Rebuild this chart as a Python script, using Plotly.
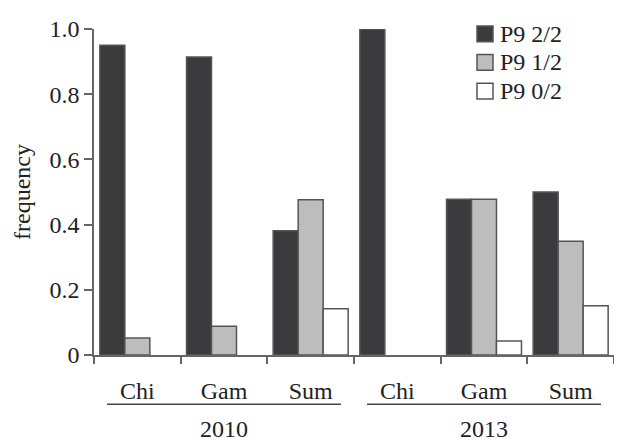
import plotly.graph_objects as go

years = ["2010", "2013"]
sites = ["Chi", "Gam", "Sum", "Chi", "Gam", "Sum"]
series_names = ["P9 2/2", "P9 1/2", "P9 0/2"]
p9_22 = [0.95, 0.914, 0.381, 1.0, 0.478, 0.50]
p9_12 = [0.052, 0.088, 0.476, 0.0, 0.478, 0.349]
p9_02 = [0.0, 0.0, 0.142, 0.0, 0.043, 0.151]
yticks = [0, 0.2, 0.4, 0.6, 0.8, 1.0]
ytick_text = ["0", "0.2", "0.4", "0.6", "0.8", "1.0"]

FONT = "Liberation Serif, Times New Roman, serif"
TXT = "#222222"
LINE = "#555555"
AX = "#666666"
fills = ["#3b3b3d", "#bdbdbd", "#ffffff"]
xpos = list(range(len(sites)))

# page body adds an 8px offset; plot area in page pixels: x 94..614, y 24..355
W, H = 614, 433
ML, MT, MR, MB = 86, 16, 8, 86
PX0, PX1, PY0, PY1 = 94, 614, 24, 355


def px(xp):
    return (xp - PX0) / (PX1 - PX0)


def py(yp):
    return (PY1 - yp) / (PY1 - PY0)


fig = go.Figure()
for name, vals, col in zip(series_names, [p9_22, p9_12, p9_02], fills):
    fig.add_trace(go.Bar(
        x=xpos, y=vals, name=name, showlegend=False,
        marker=dict(color=col,
                    line=dict(color=LINE, width=[1.5 if v > 0 else 0 for v in vals])),
    ))

# invisible trace to drive the boundary-tick axis
fig.add_trace(go.Scatter(x=[-0.5, 5.5], y=[0, 0], xaxis="x2", mode="markers",
                         marker=dict(opacity=0), showlegend=False, hoverinfo="skip"))

fig.update_layout(
    width=W, height=H,
    margin=dict(l=ML, r=MR, t=MT, b=MB),
    paper_bgcolor="white", plot_bgcolor="white",
    barmode="group", bargap=0.135, bargroupgap=0,
    font=dict(family=FONT, size=24, color=TXT),
    xaxis=dict(range=[-0.5, 5.5], tickvals=xpos, ticktext=sites,
               ticks="outside", ticklen=13, tickcolor="rgba(0,0,0,0)",
               showline=True, linecolor=AX, linewidth=1.5,
               showgrid=False, zeroline=False, fixedrange=True),
    xaxis2=dict(range=[-0.5, 5.5], overlaying="x",
                tickvals=[-0.5, 0.5, 1.5, 2.5, 3.5, 4.5, 5.5],
                ticks="outside", ticklen=8, tickcolor=AX, tickwidth=1.5,
                showticklabels=False, showline=False, showgrid=False,
                zeroline=False, anchor="y", side="bottom"),
    yaxis=dict(range=[0, 1.0], tickvals=yticks, ticktext=ytick_text,
               ticks="outside", ticklen=8, tickcolor=AX, tickwidth=1.5,
               showline=True, linecolor=AX, linewidth=1.5,
               showgrid=False, zeroline=False,
               title=dict(text="frequency", standoff=12,
                          font=dict(family=FONT, size=24, color=TXT))),
)

# legend drawn as key squares + labels
row_y = [29, 58, 87]
for name, col, ry in zip(series_names, fills, row_y):
    fig.add_shape(type="rect", xref="paper", yref="paper",
                  x0=px(477), x1=px(493), y0=py(ry + 8), y1=py(ry - 8),
                  fillcolor=col, line=dict(color=LINE, width=1.5))
    fig.add_annotation(x=px(498), y=py(ry), xref="paper", yref="paper",
                       text=name, showarrow=False, xanchor="left", yanchor="middle",
                       font=dict(family=FONT, size=24, color=TXT))

# year group labels with underlines
for i, yr in enumerate(years):
    c = 1 + 3 * i
    fig.add_shape(type="line", xref="x", yref="paper",
                  x0=c - 1.35, x1=c + 1.35, y0=py(405), y1=py(405),
                  line=dict(color="#444444", width=1.5))
    fig.add_annotation(x=c, y=py(430), xref="x", yref="paper", text=yr,
                       showarrow=False, yanchor="middle",
                       font=dict(family=FONT, size=24, color=TXT))

fig.write_html("out.html")
